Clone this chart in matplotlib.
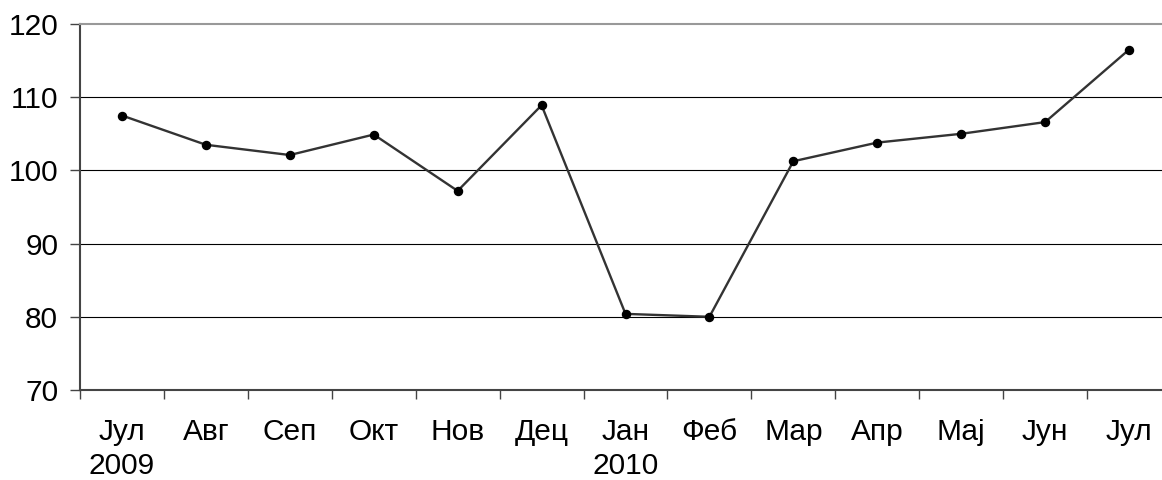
import matplotlib
matplotlib.use("Agg")
import matplotlib.pyplot as plt
import numpy as np

# indeks, jul 2009 - jul 2010
months = ["Јул", "Авг", "Сеп", "Окт", "Нов", "Дец", "Јан", "Феб", "Мар", "Апр", "Мај", "Јун", "Јул"]
years = ["2009", "", "", "", "", "", "2010", "", "", "", "", "", ""]
values = [107.5, 103.5, 102.1, 104.9, 97.2, 108.9, 80.4, 80.0, 101.25, 103.8, 105.0, 106.6, 116.5]
yticks = [70, 80, 90, 100, 110, 120]

plt.rcParams['font.family'] = ['Liberation Sans', 'DejaVu Sans']

fig = plt.figure(figsize=(11.62, 4.8), dpi=100)
# desna ivica izlazi malo van slike, kao na originalu
ax = fig.add_axes([80/1162, 1 - 390/480, (1171 - 80)/1162, (390 - 24)/480])

x = np.arange(len(values))
ax.plot(x, values, color='#333333', lw=1.7, marker='o', markersize=5.8,
        markerfacecolor='black', markeredgecolor='black', zorder=3)

ax.set_xlim(-0.5, len(values) - 0.5)
ax.set_ylim(70, 120)
ax.set_yticks(yticks)
ax.set_yticklabels([str(v) for v in yticks], fontsize=21.5)
for v in yticks[1:-1]:
    ax.axhline(v, color='black', lw=0.8, zorder=1)

ax.set_xticks(x)
ax.set_xticklabels([m + "\n" + y if y else m for m, y in zip(months, years)],
                   fontsize=21.5, linespacing=1.3, va='top')
ax.tick_params(axis='x', which='major', length=0, pad=20)
ax.set_xticks(np.arange(-0.5, len(values), 1), minor=True)
ax.tick_params(axis='x', which='minor', length=6.5, width=1, color='#444444')
ax.tick_params(axis='y', length=7.2, width=1, color='#444444', pad=8.5)

ax.spines['top'].set_color('#999999')
ax.spines['top'].set_linewidth(1.5)
ax.spines['right'].set_visible(False)
ax.spines['left'].set_color('#444444')
ax.spines['left'].set_linewidth(1.5)
ax.spines['bottom'].set_color('#444444')
ax.spines['bottom'].set_linewidth(1.5)

fig.savefig("out.png", dpi=100)
